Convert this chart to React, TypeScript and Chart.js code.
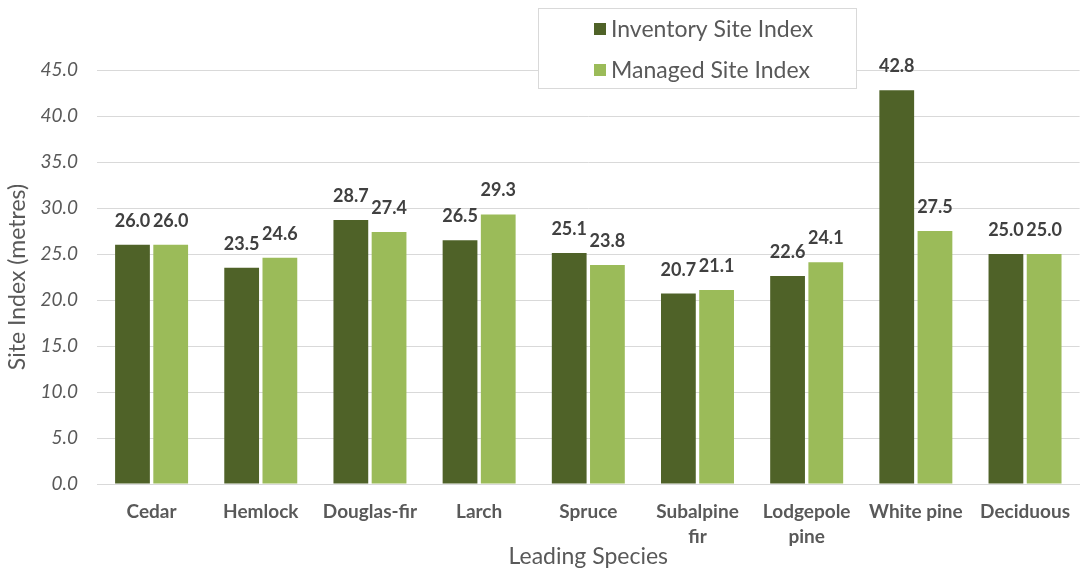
import React, { useEffect, useRef } from "react";
import { Chart, registerables } from "chart.js";

Chart.register(...registerables);

const categories: (string | string[])[] = [
  "Cedar",
  "Hemlock",
  "Douglas-fir",
  "Larch",
  "Spruce",
  ["Subalpine", "fir"],
  ["Lodgepole", "pine"],
  "White pine",
  "Deciduous",
];
const inventorySiteIndex = [26.0, 23.5, 28.7, 26.5, 25.1, 20.7, 22.6, 42.8, 25.0];
const managedSiteIndex = [26.0, 24.6, 27.4, 29.3, 23.8, 21.1, 24.1, 27.5, 25.0];
const seriesNames = ["Inventory Site Index", "Managed Site Index"];
const yTicksMax = 45;
const yTickStep = 5;

const DARK = "#4F6228";
const LIGHT = "#9BBB59";
const FONT = "Lato, 'Open Sans', sans-serif";

const valueLabels = {
  id: "valueLabels",
  afterDatasetsDraw(chart: any) {
    const ctx = chart.ctx;
    ctx.save();
    ctx.font = `bold 18px ${FONT}`;
    ctx.fillStyle = "#404040";
    ctx.textAlign = "center";
    ctx.textBaseline = "alphabetic";
    chart.data.datasets.forEach((ds: any, i: number) => {
      const meta = chart.getDatasetMeta(i);
      meta.data.forEach((bar: any, j: number) => {
        ctx.fillText(Number(ds.data[j]).toFixed(1), bar.x, bar.y - 18);
      });
    });
    ctx.restore();
  },
};

const boxLegend = {
  id: "boxLegend",
  afterDraw(chart: any) {
    const ctx = chart.ctx;
    ctx.save();
    const x = 538, y = 8, w = 318, h = 80;
    ctx.fillStyle = "#ffffff";
    ctx.fillRect(x, y, w, h);
    ctx.strokeStyle = "#d9d9d9";
    ctx.lineWidth = 1;
    ctx.strokeRect(x + 0.5, y + 0.5, w, h);
    const colors = [DARK, LIGHT];
    ctx.font = `23px ${FONT}`;
    ctx.textBaseline = "middle";
    ctx.textAlign = "left";
    seriesNames.forEach((name, i) => {
      const cy = 29 + i * 41;
      ctx.fillStyle = colors[i];
      ctx.fillRect(594, cy - 6, 12, 12);
      ctx.fillStyle = "#595959";
      ctx.fillText(name, 611, cy + 1);
    });
    ctx.restore();
  },
};

export default function App() {
  const ref = useRef<HTMLCanvasElement>(null);
  useEffect(() => {
    document.body.style.margin = "0";
    const chart = new Chart(ref.current!, {
      type: "bar",
      data: {
        labels: categories,
        datasets: [
          {
            label: seriesNames[0],
            data: inventorySiteIndex,
            backgroundColor: DARK,
            categoryPercentage: 0.7,
            barPercentage: 0.91,
          },
          {
            label: seriesNames[1],
            data: managedSiteIndex,
            backgroundColor: LIGHT,
            categoryPercentage: 0.7,
            barPercentage: 0.91,
          },
        ],
      },
      options: {
        animation: false,
        responsive: false,
        layout: { padding: { top: 70, right: 0, bottom: 0, left: 4 } },
        plugins: {
          legend: { display: false },
          tooltip: { enabled: false },
        },
        scales: {
          x: {
            grid: { display: false, drawTicks: false },
            border: { color: "#d9d9d9" },
            afterFit: (scale: any) => {
              scale.height = 87;
            },
            ticks: {
              color: "#595959",
              font: { family: FONT, size: 19, weight: "bold", lineHeight: 1.3 },
              padding: 16,
              maxRotation: 0,
              autoSkip: false,
            },
            title: {
              display: true,
              text: "Leading Species",
              color: "#595959",
              font: { family: FONT, size: 23 },
              padding: { top: 0, bottom: 1 },
            },
          },
          y: {
            min: 0,
            max: yTicksMax,
            grid: { color: "#d9d9d9", drawTicks: false },
            border: { display: false },
            afterFit: (scale: any) => {
              scale.width = 93;
            },
            ticks: {
              stepSize: yTickStep,
              color: "#595959",
              font: { family: FONT, size: 19, style: "italic" },
              padding: 19,
              callback: (v: any) => Number(v).toFixed(1),
            },
            title: {
              display: true,
              text: "Site Index (metres)",
              color: "#595959",
              font: { family: FONT, size: 23 },
              padding: { top: 0, bottom: 0 },
            },
          },
        },
      },
      plugins: [valueLabels, boxLegend],
    });
    return () => chart.destroy();
  }, []);
  return <canvas ref={ref} width={1086} height={571} style={{ display: "block" }} />;
}
